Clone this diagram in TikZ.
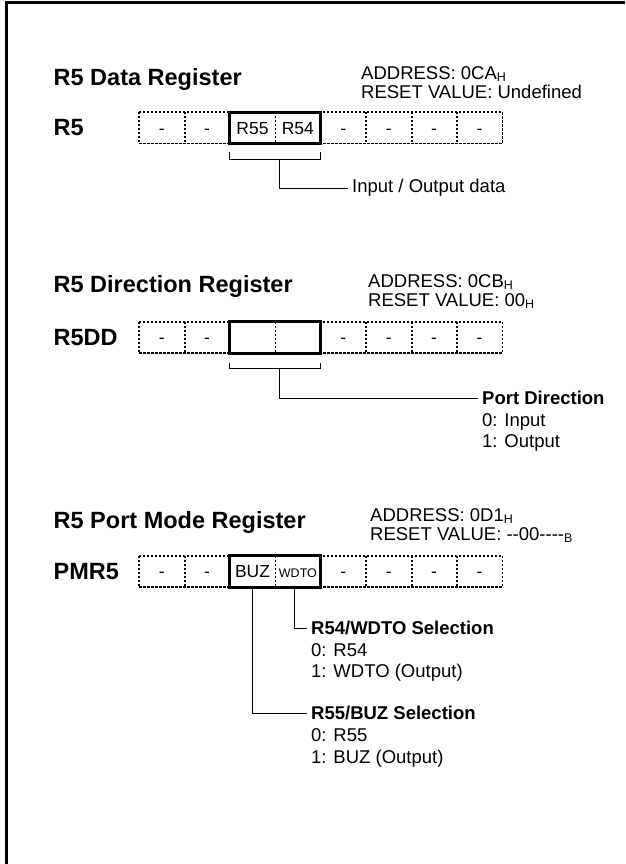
\documentclass[tikz,border=0pt]{standalone}
\usepackage{fontspec}
\setmainfont{Liberation Sans}
\usepackage{tikz}
\usetikzlibrary{calc}
\newcommand{\hsub}[1]{\raisebox{-0.12em}{\fontsize{12.5}{12.5}\selectfont #1}}
\newcommand{\hy}{\mbox{-}}

\begin{document}
\begin{tikzpicture}[x=1pt,y=-1pt,
  dotline/.style={line width=1.8pt,dash pattern=on 2.2pt off 1.8pt},
  boxline/.style={line width=3pt},
  wire/.style={line width=1pt},
  regtitle/.style={anchor=base west,inner sep=0,font=\fontsize{23.5}{26}\selectfont\bfseries},
  reglabel/.style={anchor=west,inner sep=0,font=\fontsize{23.5}{26}\selectfont\bfseries},
  info/.style={anchor=base west,inner sep=0,font=\fontsize{18.5}{20}\selectfont},
  cell/.style={minimum width=45.4pt,minimum height=31pt,inner sep=0,text height=12.5pt,text depth=0pt,font=\fontsize{17.5}{18}\selectfont},
  head/.style={anchor=west,inner xsep=4pt,inner ysep=0,font=\fontsize{18.5}{20}\selectfont\bfseries},
  item/.style={anchor=base west,inner xsep=4pt,inner ysep=0,font=\fontsize{18.5}{20}\selectfont}]
  \useasboundingbox (0,0) rectangle (625,864);
  % frame
  \draw[line width=3pt] (625,3) -- (6,3) -- (6,864);

  % R5 data register
  \node[regtitle] (r5-title) at (53.5,86) {R5 Data Register};
  \node[info] (r5-addr) at (361,79.5) {ADDRESS: 0CA\hsub{H}};
  \node[info] (r5-reset) at (361,98.5) {RESET VALUE: Undefined};
  \node[reglabel] (r5-name) at (53.5,127.8) {R5};
  \foreach \t [count=\i] in {-,-,R55,R54,-,-,-,-}
    \node[cell] (r5-\i) at ({139+(\i-0.5)*45.4},127.8) {\t};
  \draw[dotline] (r5-1.north west) rectangle (r5-8.south east);
  \foreach \i in {1,...,7} \draw[dotline] (r5-\i.north east) -- (r5-\i.south east);
  \draw[boxline] (r5-3.north west) rectangle (r5-4.south east);
  \draw[wire] ([yshift=-8pt]r5-3.south west) -- ++(0,8) -| ([yshift=-8pt]r5-4.south east);
  \coordinate (r5-bus) at (279,159);
  \node[head,font=\fontsize{18.5}{20}\selectfont] (r5-note) at (348,188) {Input / Output data};
  \draw[wire] (r5-bus) |- (r5-note.west);

  % R5 direction register
  \node[regtitle] (dd-title) at (53.5,292) {R5 Direction Register};
  \node[info] (dd-addr) at (368,287.5) {ADDRESS: 0CB\hsub{H}};
  \node[info] (dd-reset) at (368,306.5) {RESET VALUE: 00\hsub{H}};
  \node[reglabel] (dd-name) at (53.5,337.5) {R5DD};
  \foreach \t [count=\i] in {-,-,{},{},-,-,-,-}
    \node[cell] (dd-\i) at ({139+(\i-0.5)*45.4},337.5) {\t};
  \draw[dotline] (dd-1.north west) rectangle (dd-8.south east);
  \foreach \i in {1,...,7} \draw[dotline] (dd-\i.north east) -- (dd-\i.south east);
  \draw[boxline] (dd-3.north west) rectangle (dd-4.south east);
  \draw[wire] ([yshift=-10pt]dd-3.south west) -- ++(0,5) -| ([yshift=-10pt]dd-4.south east);
  \coordinate (dd-bus) at (279,368);
  \node[head] (dd-note) at (478,398) {Port Direction};
  \node[item] (dd-0) at ([yshift=-21.5pt]dd-note.base west) {0: Input};
  \node[item] (dd-1) at ([yshift=-21.5pt]dd-0.base west) {1: Output};
  \draw[wire] (dd-bus) |- (dd-note.west);

  % R5 port mode register
  \node[regtitle] (pm-title) at (53.5,528) {R5 Port Mode Register};
  \node[info] (pm-addr) at (370,521.5) {ADDRESS: 0D1\hsub{H}};
  \node[info] (pm-reset) at (370,540.5) {RESET VALUE: \hy\hy00\hy\hy\hy\hy\hsub{B}};
  \node[reglabel] (pm-name) at (53.5,571.5) {PMR5};
  \foreach \t [count=\i] in {-,-,BUZ,{\fontsize{12.5}{13}\selectfont WDTO},-,-,-,-}
    \node[cell] (pm-\i) at ({139+(\i-0.5)*45.4},571.5) {\t};
  \draw[dotline] (pm-1.north west) rectangle (pm-8.south east);
  \foreach \i in {1,...,7} \draw[dotline] (pm-\i.north east) -- (pm-\i.south east);
  \draw[boxline] (pm-3.north west) rectangle (pm-4.south east);
  \node[head] (wdto-note) at (307,628) {R54/WDTO Selection};
  \node[item] (wdto-0) at ([yshift=-21.5pt]wdto-note.base west) {0: R54};
  \node[item] (wdto-1) at ([yshift=-21.5pt]wdto-0.base west) {1: WDTO (Output)};
  \node[head] (buz-note) at (307,713) {R55/BUZ Selection};
  \node[item] (buz-0) at ([yshift=-22pt]buz-note.base west) {0: R55};
  \node[item] (buz-1) at ([yshift=-22pt]buz-0.base west) {1: BUZ (Output)};
  \draw[wire] ([xshift=-3pt]pm-4.south) |- (wdto-note.west);
  \draw[wire] (pm-3.south) |- (buz-note.west);
\end{tikzpicture}
\end{document}
